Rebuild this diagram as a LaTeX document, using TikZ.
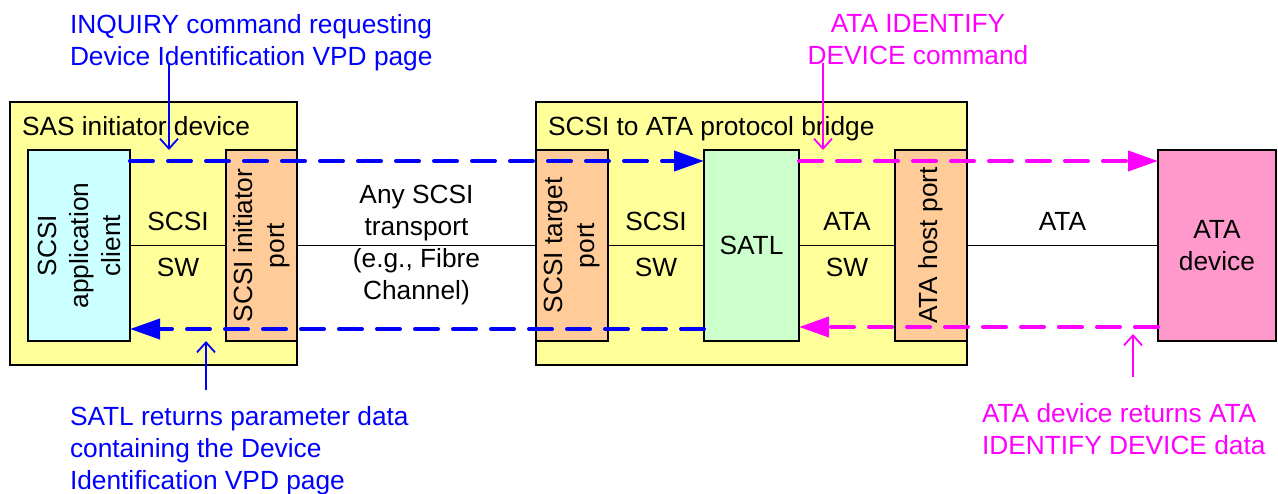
\documentclass[tikz,border=0pt]{standalone}
\usepackage{fontspec}
\setmainfont{Liberation Sans}
\usetikzlibrary{positioning, arrows.meta}
\definecolor{devyellow}{RGB}{255,255,153}
\definecolor{appcyan}{RGB}{204,255,255}
\definecolor{portorange}{RGB}{255,204,153}
\definecolor{satlgreen}{RGB}{204,255,204}
\definecolor{atapink}{RGB}{255,153,204}
\definecolor{scsiblue}{RGB}{0,0,255}
\definecolor{atamagenta}{RGB}{255,0,255}

\begin{document}
\begin{tikzpicture}[x=1pt, y=-1pt,
  every node/.style={font=\fontsize{26.3}{32}\selectfont, inner sep=0pt, outer sep=0pt},
  shell/.style={draw, rectangle, line width=1.5pt, fill=devyellow, minimum height=263pt, anchor=north west},
  unit/.style={draw, rectangle, line width=1.5pt, minimum height=191pt},
  wire/.style={line width=1.2pt},
  flow/.style={line width=4pt, dash pattern=on 23pt off 15pt, line cap=round, -{Triangle[length=30pt, width=20pt]}},
  pointer/.style={line width=1.8pt, -{Straight Barb[length=10pt, width=18pt]}}]
\useasboundingbox (0,0) rectangle (1278,493);

% the two devices
\node (sas) [shell, minimum width=287pt] at (10,102) {};
\node (bridge) [shell, minimum width=431pt] at (536,102) {};
\node (sastitle) [anchor=base west] at (22,135.5) {SAS initiator device};
\node (bridgetitle) [anchor=base west] at (548,135.5) {SCSI to ATA protocol bridge};

% layers, left to right
\node (app) [unit, fill=appcyan, minimum width=102pt, anchor=north west] at (28,150) {};
\node (iport) [unit, fill=portorange, minimum width=71pt, right=96pt of app] {};
\node (tport) [unit, fill=portorange, minimum width=72pt, right=239pt of iport] {};
\node (satl) [unit, fill=satlgreen, minimum width=95pt, right=96pt of tport] {SATL};
\node (hport) [unit, fill=portorange, minimum width=72pt, right=96pt of satl] {};
\node (atadev) [unit, fill=atapink, minimum width=118pt, right=191pt of hport, align=center] {ATA\\device};

\node (applabel) [rotate=90, align=center] at (app.center) {SCSI\\application\\client};
\node (iportlabel) [rotate=90, align=center] at (iport.center) {SCSI initiator\\port};
\node (tportlabel) [rotate=90, align=center] at (tport.center) {SCSI target\\port};
\node (hportlabel) [rotate=90] at (hport.center) {ATA host port};

\draw [wire] (app) -- (iport) node [midway, above=15pt] (scsisw1) {SCSI} node [midway, below=13pt] (sw1) {SW};
\draw [wire] (iport) -- (tport) node [midway, align=center] (transport) {Any SCSI\\transport\\(e.g., Fibre\\Channel)};
\draw [wire] (tport) -- (satl) node [midway, above=15pt] (scsisw2) {SCSI} node [midway, below=13pt] (sw2) {SW};
\draw [wire] (satl) -- (hport) node [midway, above=15pt] (atasw) {ATA} node [midway, below=13pt] (sw3) {SW};
\draw [wire] (hport) -- (atadev) node [midway, above=15pt] (atalink) {ATA};

% command and data flows
\draw [flow, scsiblue] ([yshift=-11pt]app.north east) -- ([yshift=-11pt]satl.north west);
\draw [flow, scsiblue] ([yshift=12pt]satl.south west) -- ([yshift=12pt]app.south east);
\draw [flow, atamagenta] ([yshift=-11pt]satl.north east) -- ([yshift=-11pt]atadev.north west);
\draw [flow, atamagenta] ([yshift=14pt]atadev.south west) -- ([yshift=14pt]satl.south east);

% notes
\node (inquiry) [scsiblue, anchor=north west, align=left] at (70,14.7) {INQUIRY command requesting\\Device Identification VPD page};
\node (identify) [atamagenta, anchor=north, align=center] at (918,14.5) {ATA IDENTIFY\\DEVICE command};
\node (satlreturn) [scsiblue, anchor=north west, align=left] at (70,406.2) {SATL returns parameter data\\containing the Device\\Identification VPD page};
\node (devreturn) [atamagenta, anchor=north west, align=left] at (982,403.2) {ATA device returns ATA\\IDENTIFY DEVICE data};

\coordinate (inqtail) at (169,63);
\coordinate (idtail) at (823,63);
\coordinate (rettail) at (206,390);
\coordinate (devtail) at (1133,377);
\coordinate (devtip) at (1133,334);
\draw [pointer, scsiblue] (inqtail) -- (inqtail |- app.north);
\draw [pointer, atamagenta] (idtail) -- (idtail |- satl.north);
\draw [pointer, scsiblue] (rettail) -- (rettail |- app.south);
\draw [pointer, atamagenta] (devtail) -- (devtip);
\end{tikzpicture}
\end{document}
